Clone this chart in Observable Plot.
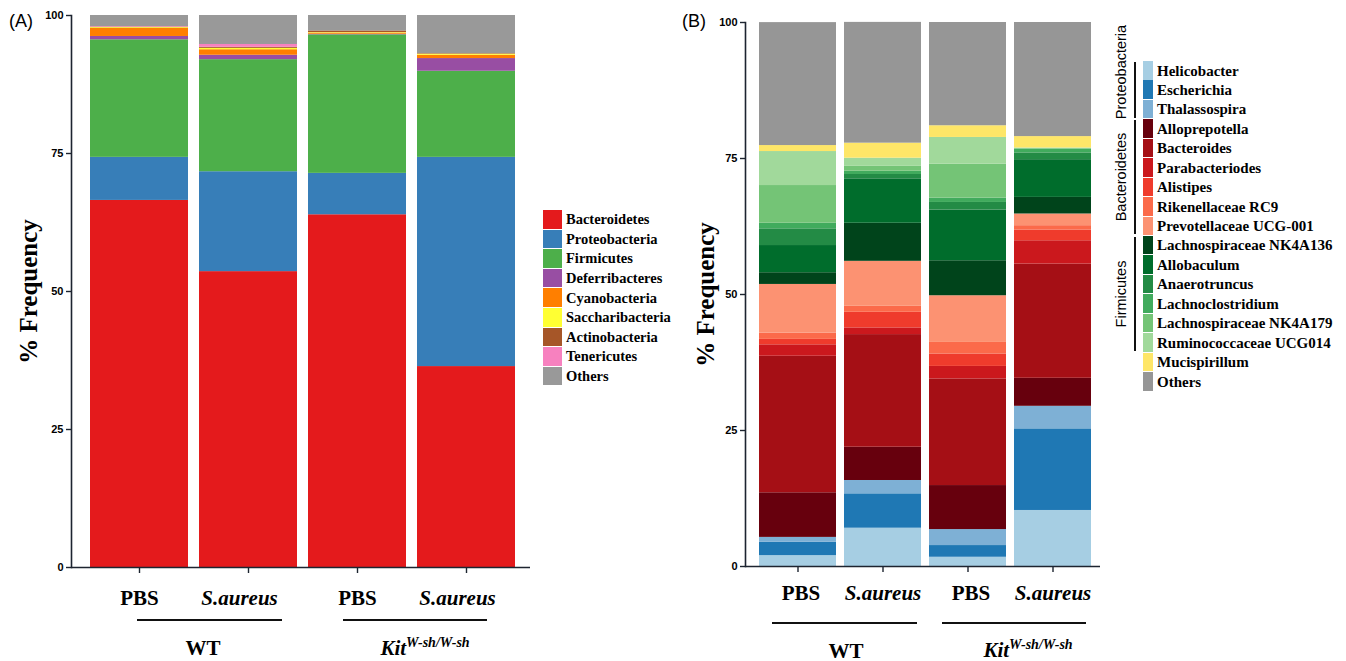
<!DOCTYPE html>
<html><head><meta charset="utf-8">
<script src="https://cdn.jsdelivr.net/npm/d3@7"></script>
<script src="https://cdn.jsdelivr.net/npm/@observablehq/plot@0.6"></script>
<style>
body{margin:0;background:#fff;}
#root{position:relative;width:1346px;height:661px;overflow:hidden;background:#fff;}
#root svg{position:absolute;top:0;}
.t{position:absolute;white-space:nowrap;color:#000;}
.serif{font-family:"Liberation Serif","Times New Roman",serif;font-weight:bold;}
.sans{font-family:"Liberation Sans",Arial,sans-serif;}
</style></head><body><div id="root"></div>
<script>
// ---------- shared categories ----------
const groups = ["PBS WT", "S.aureus WT", "PBS Kit", "S.aureus Kit"];
const xLabels = ["PBS", "S.aureus", "PBS", "S.aureus"];
const yTicks = [0, 25, 50, 75, 100];

// ---------- Panel A: phyla ----------
const taxaA = ["Bacteroidetes","Proteobacteria","Firmicutes","Deferribacteres","Cyanobacteria","Saccharibacteria","Actinobacteria","Tenericutes","Others"];
const colorsA = ["#e41a1c","#377eb8","#4daf4a","#984ea3","#ff7f00","#ffff33","#a65628","#f781bf","#999999"];
const bacteroidetesA   = [66.5, 53.6, 63.9, 36.4];
const proteobacteriaA  = [7.8, 18.1, 7.5, 37.9];
const firmicutesA      = [21.3, 20.3, 25.1, 15.6];
const deferribacteresA = [0.6, 0.8, 0.1, 2.3];
const cyanobacteriaA   = [1.45, 1.0, 0.2, 0.6];
const saccharibacteriaA= [0.15, 0.25, 0.1, 0.2];
const actinobacteriaA  = [0.1, 0.2, 0.3, 0.1];
const tenericutesA     = [0.1, 0.5, 0.0, 0.0];
const othersA          = [2.0, 5.25, 2.8, 6.9];
const seriesA = [bacteroidetesA, proteobacteriaA, firmicutesA, deferribacteresA, cyanobacteriaA, saccharibacteriaA, actinobacteriaA, tenericutesA, othersA];

// ---------- Panel B: genera ----------
const taxaB = ["Helicobacter","Escherichia","Thalassospira","Alloprepotella","Bacteroides","Parabacteriodes","Alistipes","Rikenellaceae RC9","Prevotellaceae UCG-001","Lachnospiraceae NK4A136","Allobaculum","Anaerotruncus","Lachnoclostridium","Lachnospiraceae NK4A179","Ruminococcaceae UCG014","Mucispirillum","Others"];
const colorsB = ["#a6cee3","#1f78b4","#7eb0d5","#67000d","#a50f15","#cb181d","#ef3b2c","#fb6a4a","#fc9272","#00441b","#006d2c","#238b45","#41ab5d","#74c476","#a1d99b","#fee668","#969696"];
const helicobacter      = [2.0, 7.04, 1.7, 10.3];
const escherichia       = [2.45, 6.32, 2.15, 15.0];
const thalassospira     = [0.9, 2.45, 2.94, 4.15];
const alloprepotella    = [8.2, 6.12, 8.09, 5.15];
const bacteroides       = [25.1, 20.7, 19.6, 21.0];
const parabacteriodes   = [2.1, 1.23, 2.3, 4.28];
const alistipes         = [1.0, 2.87, 2.28, 1.97];
const rikenellaceaeRC9  = [1.15, 1.1, 2.13, 0.8];
const prevotellaceae    = [8.95, 8.27, 8.58, 2.15];
const lachnoNK4A136     = [2.15, 7.0, 6.43, 3.05];
const allobaculum       = [5.0, 8.16, 9.32, 6.93];
const anaerotruncus     = [3.07, 0.8, 1.4, 1.25];
const lachnoclostridium = [1.03, 0.6, 0.8, 0.7];
const lachnoNK4A179     = [6.93, 0.9, 6.25, 0.1];
const ruminococcaceae   = [6.25, 1.5, 4.9, 0.1];
const mucispirillum     = [1.1, 2.76, 2.15, 2.1];
const othersB           = [22.6, 22.2, 18.98, 20.97];
const seriesB = [helicobacter, escherichia, thalassospira, alloprepotella, bacteroides, parabacteriodes, alistipes, rikenellaceaeRC9, prevotellaceae, lachnoNK4A136, allobaculum, anaerotruncus, lachnoclostridium, lachnoNK4A179, ruminococcaceae, mucispirillum, othersB];
const phylumGroupsB = [["Proteobacteria", 0, 2], ["Bacteroidetes", 3, 8], ["Firmicutes", 9, 14]];

// ---------- helpers ----------
const SERIF = "Liberation Serif, Times New Roman, serif";
const SANS = "Liberation Sans, Arial, sans-serif";
const root = document.getElementById("root");
function longTable(taxa, series) {
  return taxa.flatMap((t, i) => groups.map((g, j) => ({group: g, taxon: t, value: series[i][j]})));
}
const labelRows = groups.map((g, i) => ({group: g, label: xLabels[i]}));

function panel(cfg) {
  const p = Plot.plot({
    width: cfg.width, height: 661,
    marginLeft: cfg.ml, marginRight: cfg.mr, marginTop: cfg.mt, marginBottom: cfg.mb,
    style: {background: "transparent", overflow: "visible"},
    x: {domain: groups, range: cfg.xRange, paddingInner: cfg.pi, paddingOuter: 0.05, axis: null},
    y: {domain: [0, 100], axis: null},
    color: {domain: cfg.taxa, range: cfg.colors},
    marks: [
      Plot.barY(longTable(cfg.taxa, cfg.series), {x: "group", y: "value", fill: "taxon"}),
      Plot.axisY({ticks: yTicks, tickSize: 5, tickPadding: 3, fontSize: 11, fontWeight: "bold", fontFamily: SANS, label: null, stroke: "#1d2430", strokeWidth: 1.4}),
      Plot.axisX({tickSize: 6, tickFormat: () => "", label: null, stroke: "#1d2430", strokeWidth: 1.4}),
      Plot.ruleY([0], {stroke: "#1d2430", strokeWidth: 1.6}),
      Plot.frame({anchor: "left", stroke: "#1d2430", strokeWidth: 1.6}),
      Plot.text(labelRows.filter(d => d.label === "PBS"), {x: "group", text: "label", frameAnchor: "bottom", dy: cfg.labelDy, dx: cfg.pbsDx, fontSize: 21, fontWeight: "bold", fontFamily: SERIF, fill: "#000"}),
      Plot.text(labelRows.filter(d => d.label !== "PBS"), {x: "group", text: "label", frameAnchor: "bottom", dy: cfg.labelDy, dx: cfg.saDx, fontSize: 21, fontWeight: "bold", fontStyle: "italic", fontFamily: SERIF, fill: "#000"}),
      Plot.text(["% Frequency"], {text: d => d, frameAnchor: "left", textAnchor: "middle", rotate: -90, dx: cfg.titleDx, fontSize: 25, fontWeight: "bold", fontFamily: SERIF, fill: "#000"})
    ]
  });
  p.style.left = cfg.left + "px";
  root.appendChild(p);
  return p;
}

panel({left: 0, width: 540, ml: 71, mr: 10, mt: 15, mb: 94, xRange: [84.5, 521.5], pi: 0.1,
  taxa: taxaA, colors: colorsA, series: seriesA, labelDy: 37, pbsDx: 0, saDx: -9, titleDx: -43});
panel({left: 680, width: 430, ml: 65, mr: 10, mt: 22, mb: 95, xRange: [72.7, 417.3], pi: 0.093,
  taxa: taxaB, colors: colorsB, series: seriesB, labelDy: 33, pbsDx: 3, saDx: 0, titleDx: -40});

function div(cls, html, css) {
  const d = document.createElement("div");
  d.className = cls; d.innerHTML = html;
  Object.assign(d.style, css);
  root.appendChild(d);
  return d;
}
// panel letters
div("t sans", "(A)", {left: "9px", top: "11px", fontSize: "18px"});
div("t sans", "(B)", {left: "682px", top: "11px", fontSize: "18px"});

// group annotations
function underline(x1, x2, y) {
  div("t", "", {left: x1 + "px", top: y + "px", width: (x2 - x1) + "px", height: "1.6px", background: "#111"});
}
underline(137, 282, 619); underline(343, 487, 619);
underline(772, 917, 622); underline(942, 1086, 622);
const kitHTML = '<i>Kit</i><sup style="font-size:14px;font-style:italic;vertical-align:0;position:relative;top:-8px">W-sh/W-sh</sup>';
function groupLabel(html, cx, cy) {
  div("t serif", html, {left: cx + "px", top: cy + "px", fontSize: "21px", transform: "translate(-50%,-50%)", lineHeight: "1"});
}
groupLabel("WT", 203, 648); groupLabel(kitHTML, 425, 648);
groupLabel("WT", 846, 651); groupLabel(kitHTML, 1028, 650);

// legend A
taxaA.forEach((t, i) => {
  const top = 210 + i * 19.6;
  div("t", "", {left: "543px", top: top + "px", width: "19px", height: "18.5px", background: colorsA[i]});
  div("t serif", t, {left: "566px", top: (top + 9.25) + "px", fontSize: "14.5px", transform: "translateY(-50%)", lineHeight: "1"});
});
// legend B
taxaB.forEach((t, i) => {
  const top = 61 + i * 19.44;
  div("t", "", {left: "1143px", top: top + "px", width: "10px", height: "18.5px", background: colorsB[i]});
  div("t serif", t, {left: "1157px", top: (top + 9.5) + "px", fontSize: "15px", transform: "translateY(-50%)", lineHeight: "1"});
});
phylumGroupsB.forEach(([name, a, b], k) => {
  const y1 = 61 + a * 19.44 + 1, y2 = 61 + (b + 1) * 19.44 - 1.5;
  div("t", "", {left: "1134px", top: y1 + "px", width: "1.8px", height: (y2 - y1) + "px", background: "#111"});
  const cy = k === 0 ? 72 : (y1 + y2) / 2;
  div("t sans", name, {left: "1121px", top: cy + "px", fontSize: "14.5px", lineHeight: "1", transform: "translate(-50%,-50%) rotate(-90deg)"});
});
</script></body></html>
